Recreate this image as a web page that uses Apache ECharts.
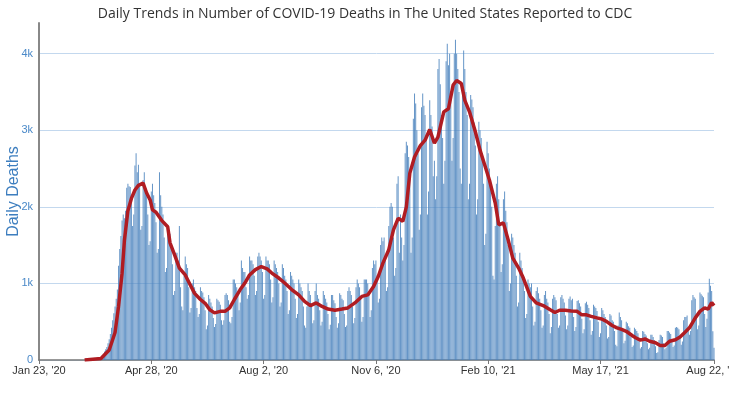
<!DOCTYPE html>
<html>
<head>
<meta charset="utf-8">
<script src="https://cdn.jsdelivr.net/npm/echarts@6/dist/echarts.min.js"></script>
<style>
  html, body { margin: 0; padding: 0; background: #fff; }
  #chart { width: 730px; height: 397px; }
</style>
</head>
<body>
<div id="chart"></div>
<script>
// day 0 = Jan 23, 2020 ; last day = Aug 22, 2021
var startDate = Date.UTC(2020, 0, 23);
var dayCount = 578;
var tickDays = [0, 96, 192, 288, 384, 480, 577];

// daily deaths, one row per week (Sun..Sat), first value is Mar 1, 2020
var firstBarDay = 38;
var dailyDeaths = [
  1, 1, 2, 3, 4, 3, 4,
  5, 8, 10, 14, 18, 20, 25,
  30, 40, 60, 80, 110, 140, 170,
  220, 270, 340, 420, 520, 610, 700,
  800, 920, 1230, 1450, 1620, 1820, 1900,
  1850, 1950, 2250, 2300, 2270, 2260, 2150,
  1750, 1900, 2540, 2700, 2450, 2550, 2300,
  1700, 1750, 2350, 2450, 2250, 2150, 1900,
  1500, 1550, 2200, 2300, 2150, 2050, 1800,
  1400, 1450, 2450, 2150, 2000, 1900, 1600,
  1150, 1200, 1750, 1700, 1650, 1500, 1250,
  850, 900, 1400, 1400, 1300, 1750, 950,
  700, 650, 1100, 1350, 1250, 1200, 950,
  620, 680, 1000, 1050, 950, 900, 680,
  560, 600, 950, 900, 880, 820, 650,
  400, 450, 850, 800, 750, 700, 550,
  430, 470, 800, 780, 760, 720, 520,
  460, 520, 850, 870, 850, 780, 500,
  480, 560, 1050, 1050, 1000, 950, 850,
  650, 750, 1300, 1200, 1150, 1150, 950,
  800, 850, 1350, 1300, 1300, 1250, 1100,
  850, 900, 1350, 1400, 1350, 1300, 1150,
  800, 850, 1350, 1300, 1300, 1250, 1050,
  750, 820, 1300, 1250, 1200, 1150, 1000,
  700, 750, 1250, 1200, 1100, 1050, 900,
  600, 650, 1150, 1100, 1050, 1000, 800,
  550, 600, 1050, 1000, 950, 900, 700,
  450, 420, 700, 1000, 900, 850, 700,
  480, 520, 900, 1000, 850, 800, 650,
  450, 500, 900, 850, 800, 750, 600,
  400, 460, 850, 850, 780, 740, 560,
  420, 480, 870, 850, 800, 780, 600,
  430, 450, 900, 950, 900, 850, 700,
  480, 550, 950, 1050, 1000, 950, 800,
  500, 560, 1050, 1050, 1050, 1000, 850,
  560, 650, 1200, 1300, 1250, 1300, 1100,
  750, 800, 1500, 1600, 1550, 1600, 1350,
  900, 950, 1750, 2000, 2050, 2000, 1600,
  1100, 1200, 2300, 2400, 1400, 1900, 1600,
  1300, 1500, 2700, 2850, 2800, 2650, 2400,
  1400, 1600, 3150, 3480, 3350, 3000, 2700,
  1700, 1900, 3300, 3480, 3320, 3200, 2900,
  1900, 2200, 3390, 3200, 3050, 2400, 2600,
  2100, 2400, 3800, 3930, 3600, 3200, 2900,
  2300, 2600, 3900, 4130, 3850, 4000, 3500,
  2600, 2900, 4000, 4180, 4000, 3800, 3500,
  2500, 2300, 3500, 4040, 3800, 3500, 3200,
  2100, 2300, 3460, 3400, 3300, 3100, 2800,
  1900, 2100, 3110, 3000, 2900, 2700, 2300,
  1500, 1650, 2850, 2700, 2500, 2350, 2000,
  1100, 1050, 1750, 2300, 2400, 2100, 1800,
  1150, 1250, 2100, 2200, 1950, 1800, 1500,
  900, 1000, 1650, 1600, 1500, 1400, 1100,
  700, 750, 1400, 1300, 1200, 1050, 900,
  550, 600, 1050, 1000, 950, 1000, 700,
  450, 500, 900, 950, 870, 800, 650,
  420, 450, 850, 900, 800, 750, 600,
  350, 430, 800, 850, 820, 780, 600,
  420, 450, 820, 850, 800, 750, 580,
  400, 450, 800, 830, 780, 800, 560,
  380, 430, 770, 780, 740, 700, 540,
  350, 400, 740, 760, 720, 680, 520,
  330, 380, 720, 700, 680, 640, 500,
  300, 350, 680, 650, 600, 560, 450,
  280, 300, 600, 580, 520, 500, 380,
  200, 180, 450, 620, 560, 520, 380,
  220, 250, 500, 480, 440, 420, 300,
  170, 190, 420, 400, 380, 350, 240,
  150, 170, 380, 370, 340, 320, 220,
  140, 160, 330, 330, 300, 260, 180,
  90, 100, 260, 330, 320, 300, 220,
  140, 160, 380, 380, 360, 340, 250,
  170, 190, 420, 430, 420, 400, 290,
  200, 240, 520, 560, 560, 580, 420,
  330, 380, 780, 850, 820, 800, 580,
  400, 450, 880, 860, 840, 820, 600,
  430, 540, 880, 1060, 970, 900, 375,
  160
];

// 7-day average, read at the days listed
var avgDay = [39, 53, 60, 65, 68, 71, 73, 76, 79, 82,
  85, 89, 92, 95, 97, 100, 105, 110, 112, 116,
  120, 125, 129, 133, 138, 142, 146, 150, 155, 159,
  163, 167, 172, 176, 180, 185, 190, 195, 199, 205,
  210, 216, 222, 227, 232, 237, 242, 247, 253, 259,
  264, 270, 276, 281, 286, 290, 294, 299, 303, 307,
  311, 314, 317, 321, 326, 330, 334, 338, 341, 346,
  350, 354, 357, 361, 364, 368, 373, 377, 381, 385,
  390, 393, 397, 401, 405, 410, 414, 420, 425, 431,
  437, 441, 445, 450, 455, 460, 464, 468, 472, 477,
  481, 485, 490, 494, 498, 502, 507, 510, 514, 518,
  522, 527, 531, 535, 539, 544, 548, 552, 556, 561,
  565, 569, 572, 575, 577];
var avgValue = [0, 20, 130, 360, 700, 1130, 1560, 1950, 2110, 2220,
  2280, 2310, 2180, 2090, 1960, 1930, 1820, 1740, 1530, 1370,
  1200, 1110, 990, 870, 790, 740, 655, 615, 635, 635,
  680, 790, 920, 1005, 1110, 1180, 1220, 1190, 1135, 1070,
  1005, 920, 850, 765, 710, 745, 700, 665, 650, 665,
  680, 745, 830, 850, 960, 1090, 1265, 1440, 1700, 1850,
  1810, 2000, 2440, 2650, 2800, 2870, 3010, 2830, 2910, 3240,
  3280, 3590, 3650, 3610, 3390, 3240, 2980, 2740, 2545, 2350,
  2050, 1765, 1790, 1570, 1330, 1200, 1070, 830, 745, 710,
  655, 620, 650, 650, 640, 635, 590, 590, 570, 550,
  535, 505, 450, 420, 400, 375, 320, 290, 260, 275,
  245, 225, 190, 190, 245, 265, 300, 360, 420, 550,
  635, 680, 665, 750, 710];

var months = ['Jan', 'Feb', 'Mar', 'Apr', 'May', 'Jun', 'Jul', 'Aug', 'Sep', 'Oct', 'Nov', 'Dec'];
var dates = [];
for (var i = 0; i < dayCount; i++) {
  var d = new Date(startDate + i * 86400000);
  dates.push(months[d.getUTCMonth()] + ' ' + d.getUTCDate() + ", '" + String(d.getUTCFullYear()).slice(2));
}

var barData = dailyDeaths.map(function (v, i) { return [firstBarDay + i, v]; });
var lineData = avgDay.map(function (d, i) { return [d, avgValue[i]]; });

var showTick = function (index) { return tickDays.indexOf(index) >= 0; };

var myChart = echarts.init(document.getElementById('chart'));
var option = {
  animation: false,
  title: {
    text: 'Daily Trends in Number of COVID-19 Deaths in The United States Reported to CDC',
    left: 'center',
    top: 2,
    textStyle: { fontFamily: 'Open Sans', fontSize: 14, fontWeight: 'normal', color: '#333' }
  },
  grid: { left: 39, right: 16, top: 23, bottom: 37, outerBoundsMode: 'none', containLabel: false },
  xAxis: {
    type: 'category',
    data: dates,
    boundaryGap: false,
    axisLine: { lineStyle: { color: '#777', width: 1.5 } },
    axisTick: { interval: showTick, length: 4, lineStyle: { color: '#777' } },
    axisLabel: {
      interval: showTick,
      hideOverlap: false,
      fontFamily: 'Arial',
      fontSize: 11,
      color: '#333',
      margin: 5
    },
    splitLine: { show: false }
  },
  yAxis: {
    type: 'value',
    min: 0,
    max: 4400,
    interval: 1000,
    name: 'Daily Deaths',
    nameLocation: 'middle',
    nameGap: 17,
    nameMoveOverlap: false,
    nameTextStyle: { fontFamily: 'Arial', fontSize: 16, color: '#3d7ebf' },
    axisLine: { show: true, lineStyle: { color: '#888', width: 2 } },
    axisTick: { show: false },
    axisLabel: {
      showMaxLabel: false,
      fontFamily: 'Arial',
      fontSize: 11,
      color: '#4a89c8',
      margin: 6,
      formatter: function (v) { return v === 0 ? '0' : (v / 1000) + 'k'; }
    },
    splitLine: { show: true, showMaxLine: false, lineStyle: { color: '#c3d8ee', width: 1 } }
  },
  series: [
    {
      name: 'Daily Deaths',
      type: 'bar',
      data: barData,
      barCategoryGap: '25%',
      itemStyle: { color: '#4a83bd', opacity: 0.85 }
    },
    {
      name: '7-Day Moving Average',
      type: 'line',
      data: lineData,
      symbol: 'none',
      lineStyle: { color: '#b01c22', width: 3.5 },
      z: 5
    }
  ]
};
myChart.setOption(option);
</script>
</body>
</html>
